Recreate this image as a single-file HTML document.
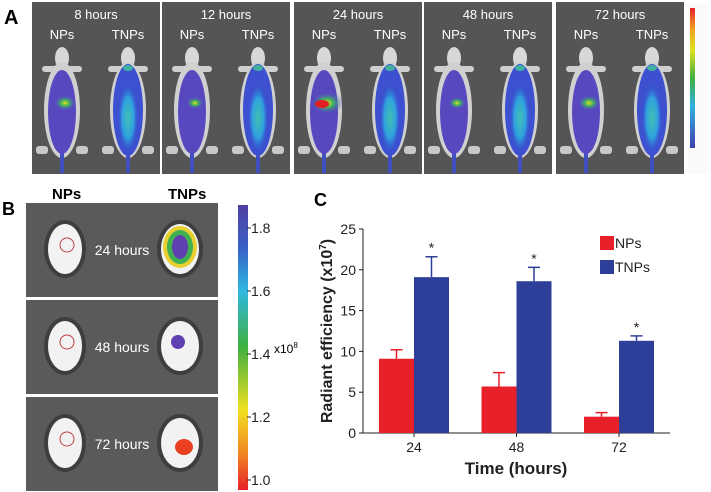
<!DOCTYPE html>
<html><head><meta charset="utf-8"><style>
body{margin:0;width:711px;height:492px;background:#fff;overflow:hidden;font-family:"Liberation Sans",sans-serif}
svg{position:absolute;left:0;top:0}
</style></head><body>
<svg width="711" height="492" viewBox="0 0 711 492">
<defs>
<linearGradient id="cbar" x1="0" y1="1" x2="0" y2="0">
<stop offset="0" stop-color="#e8202a"/><stop offset="0.12" stop-color="#f08020"/><stop offset="0.28" stop-color="#f0e020"/><stop offset="0.5" stop-color="#40b040"/><stop offset="0.7" stop-color="#30b8e0"/><stop offset="0.85" stop-color="#3a60c8"/><stop offset="1" stop-color="#5040a0"/>
</linearGradient>
<linearGradient id="cbarA" x1="0" y1="0" x2="0" y2="1">
<stop offset="0" stop-color="#e8202a"/><stop offset="0.15" stop-color="#f0a020"/><stop offset="0.3" stop-color="#e0e020"/><stop offset="0.5" stop-color="#40b040"/><stop offset="0.7" stop-color="#30b0e0"/><stop offset="1" stop-color="#4040b0"/>
</linearGradient>
<radialGradient id="glowN"><stop offset="0" stop-color="#e0e020"/><stop offset="0.4" stop-color="#40b060"/><stop offset="1" stop-color="#5050c8" stop-opacity="0"/></radialGradient>
<radialGradient id="glowT"><stop offset="0" stop-color="#40c0b0"/><stop offset="0.6" stop-color="#30a0e0"/><stop offset="1" stop-color="#3060d0" stop-opacity="0"/></radialGradient>
</defs>
<text x="4" y="24" font-size="20" font-weight="bold">A</text>
<g id="panelA"></g>
<rect x="688" y="4" width="20" height="170" fill="#fafafa"/>
<rect x="690" y="8" width="5" height="140" fill="url(#cbarA)"/>
<text x="2" y="215" font-size="18" font-weight="bold">B</text>
<text x="52" y="199" font-size="15" font-weight="bold">NPs</text>
<text x="168" y="199" font-size="15" font-weight="bold">TNPs</text>
<g id="panelB"></g>
<rect x="238" y="205" width="10" height="285" fill="url(#cbar)"/>
<g id="cbticks" font-size="14" fill="#222"></g>
<text x="274" y="353" font-size="12">x10<tspan font-size="8" dy="-5">8</tspan></text>
<text x="314" y="206" font-size="18" font-weight="bold">C</text>
<g id="chart"></g>
</svg>
<script>
const times=["8 hours","12 hours","24 hours","48 hours","72 hours"];
const panelX=[32,162,294,424,556];
const hotN=[0.6,0.4,1.0,0.4,0.6];
const NS="http://www.w3.org/2000/svg";
function mk(p,tag,at){const e=document.createElementNS(NS,tag);for(const k in at)e.setAttribute(k,at[k]);p.appendChild(e);return e;}
const A=document.getElementById('panelA');
function mouse(g,cx,top,type,hot){
  mk(g,'ellipse',{cx:cx,cy:top+10,rx:7,ry:11,fill:'#d8d8d8'});
  mk(g,'rect',{x:cx-20,y:top+18,width:40,height:6,rx:3,fill:'#cfcfcf'});
  mk(g,'ellipse',{cx:cx,cy:top+62,rx:18,ry:48,fill:'#d0d0d0'});
  mk(g,'rect',{x:cx-26,y:top+98,width:12,height:8,rx:3,fill:'#c8c8c8'});
  mk(g,'rect',{x:cx+14,y:top+98,width:12,height:8,rx:3,fill:'#c8c8c8'});
  mk(g,'rect',{x:cx-2,y:top+105,width:4,height:20,fill:'#4050c0'});
  if(type==='N'){
    mk(g,'ellipse',{cx:cx,cy:top+64,rx:14,ry:42,fill:'#5848c0'});
    mk(g,'ellipse',{cx:cx+3,cy:top+55,rx:12*hot+4,ry:8*hot+3,fill:'url(#glowN)'});
    if(hot>0.9) mk(g,'ellipse',{cx:cx-2,cy:top+56,rx:7,ry:4,fill:'#e02020'});
  } else {
    mk(g,'ellipse',{cx:cx,cy:top+62,rx:15,ry:46,fill:'#3c50d0'});
    mk(g,'ellipse',{cx:cx,cy:top+70,rx:10,ry:34,fill:'url(#glowT)'});
    mk(g,'ellipse',{cx:cx,cy:top+20,rx:5,ry:3,fill:'#40b0a0'});
  }
}
times.forEach((t,i)=>{
  const g=mk(A,'g',{});
  
  
  const x=panelX[i];
  mk(g,'rect',{x:x,y:2,width:128,height:172,fill:'#555555'});
  mk(g,'text',{x:x+64,y:19,'font-size':13,fill:'#fff','text-anchor':'middle'}).textContent=t;
  mk(g,'text',{x:x+30,y:39,'font-size':13,fill:'#fff','text-anchor':'middle'}).textContent='NPs';
  mk(g,'text',{x:x+96,y:39,'font-size':13,fill:'#fff','text-anchor':'middle'}).textContent='TNPs';
  mouse(g,x+30,48,'N',hotN[i]);
  mouse(g,x+96,48,'T',0.5);
});
const bTimes=["24 hours","48 hours","72 hours"];
const bY=[203,300,397];
const B=document.getElementById('panelB');
bTimes.forEach((t,i)=>{
  const g=mk(B,'g',{});
  
  
  const y=bY[i];
  mk(g,'rect',{x:26,y:y,width:192,height:94,fill:'#5a5a5a'});
  mk(g,'ellipse',{cx:65,cy:y+46,rx:21,ry:29,fill:'#3e3e3e'});
  mk(g,'ellipse',{cx:65,cy:y+46,rx:17,ry:25,fill:'#f2f2f2'});
  mk(g,'circle',{cx:67,cy:y+42,r:7,fill:'none',stroke:'#c04040','stroke-width':1});
  mk(g,'ellipse',{cx:180,cy:y+46,rx:23,ry:29,fill:'#3e3e3e'});
  mk(g,'ellipse',{cx:180,cy:y+46,rx:19,ry:25,fill:'#f2f2f2'});
  if(i===0){mk(g,'ellipse',{cx:180,cy:y+44,rx:17,ry:21,fill:'#e8d030'});mk(g,'ellipse',{cx:180,cy:y+44,rx:13,ry:17,fill:'#40b050'});mk(g,'ellipse',{cx:180,cy:y+44,rx:8,ry:12,fill:'#6040b0'});}
  if(i===1){mk(g,'ellipse',{cx:178,cy:y+42,rx:7,ry:7,fill:'#6040b0'});}
  if(i===2){mk(g,'ellipse',{cx:184,cy:y+50,rx:9,ry:8,fill:'#e84020'});}
  mk(g,'text',{x:122,y:y+52,'font-size':14,fill:'#fff','text-anchor':'middle'}).textContent=t;
});
const cbLabels=["1.8","1.6","1.4","1.2","1.0"];
const cbVals=[1.8,1.6,1.4,1.2,1.0];
const CB=document.getElementById('cbticks');
cbVals.forEach((v,i)=>{
  const y=480-(v-1.0)/(0.8)*(480-228);
  const t=mk(CB,'text',{x:251,y:y+5});t.textContent=cbLabels[i];
  
  
  mk(CB,'line',{x1:247,x2:251,y1:y,y2:y,stroke:'#222'});
});
// Chart C
const categories=["24","48","72"];
const npValues=[9.1,5.7,2.0];
const npErr=[1.1,1.7,0.5];
const tnpValues=[19.1,18.6,11.3];
const tnpErr=[2.5,1.7,0.6];
const yTicks=[0,5,10,15,20,25];
const x0=363,x1=670,yB=433,yT=229,yMax=25;
const yS=v=>yB-v/yMax*(yB-yT);
const groupX=i=>379+i*102.5;
const bw=35;
const C=document.getElementById('chart');
mk(C,'line',{x1:x0,x2:x0,y1:yT,y2:yB,stroke:'#222','stroke-width':1});
mk(C,'line',{x1:x0,x2:x1,y1:yB,y2:yB,stroke:'#222','stroke-width':1});
yTicks.forEach(v=>{
  mk(C,'line',{x1:x0-4,x2:x0,y1:yS(v),y2:yS(v),stroke:'#222'});
  const t=mk(C,'text',{x:x0-7,y:yS(v)+5,'font-size':14,'text-anchor':'end',fill:'#222'});t.textContent=v;
  
  
});
function bar(x,v,e,col,name){
  mk(C,'line',{x1:x+bw/2,x2:x+bw/2,y1:yS(v),y2:yS(v+e),stroke:col,'stroke-width':1.5});
  mk(C,'line',{x1:x+bw/2-6,x2:x+bw/2+6,y1:yS(v+e),y2:yS(v+e),stroke:col,'stroke-width':1.5});
  const r=mk(C,'rect',{x:x,y:yS(v),width:bw,height:yB-yS(v),fill:col});
  
  
}
categories.forEach((c,i)=>{
  const gx=groupX(i);
  bar(gx,npValues[i],npErr[i],'#e8202a','bar-nps-'+c);
  bar(gx+bw,tnpValues[i],tnpErr[i],'#2e3f9a','bar-tnps-'+c);
  const s=mk(C,'text',{x:gx+bw*1.5,y:yS(tnpValues[i]+tnpErr[i])-4,'font-size':14,'text-anchor':'middle',fill:'#222'});s.textContent='*';
  
  
  mk(C,'line',{x1:gx+bw,x2:gx+bw,y1:yB,y2:yB+4,stroke:'#222'});
  const t=mk(C,'text',{x:gx+bw,y:yB+19,'font-size':14,'text-anchor':'middle',fill:'#222'});t.textContent=c;
  
  
});
</script>
<svg width="711" height="492" style="pointer-events:none">
<text x="516" y="474" font-size="17" font-weight="bold" text-anchor="middle" fill="#222">Time (hours)</text>
<text transform="translate(332,331) rotate(-90)" font-size="16" font-weight="bold" text-anchor="middle" fill="#222">Radiant efficiency (x10<tspan font-size="10" dy="-6">7</tspan><tspan dy="6">)</tspan></text>
<rect x="600" y="236" width="14" height="14" fill="#e8202a"/>
<text x="615" y="248" font-size="14" fill="#222">NPs</text>
<rect x="600" y="260" width="14" height="14" fill="#2e3f9a"/>
<text x="615" y="272" font-size="14" fill="#222">TNPs</text>
</svg>
</body></html>
